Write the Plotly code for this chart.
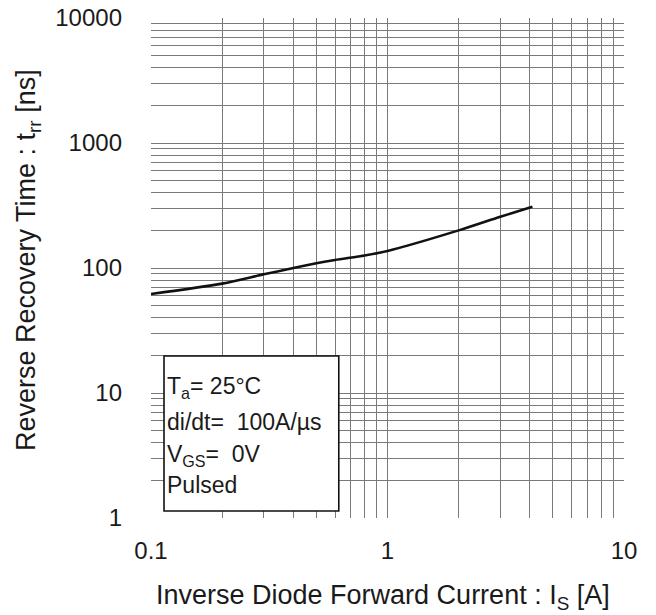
import plotly.graph_objects as go

# Data
current_a = [0.1, 0.2, 0.3, 0.4, 0.5, 0.6, 0.8, 1.0, 2.0, 3.0, 4.1]
trr_ns = [62, 75, 89, 100, 109, 116, 126, 137, 200, 257, 309]

x_tickvals = [0.1, 1, 10]
x_ticktext = ["0.1", "1", "10"]
y_tickvals = [1, 10, 100, 1000, 10000]
y_ticktext = ["1", "10", "100", "1000", "10000"]

x_minor = [m * 10 ** e for e in (-1, 0) for m in range(2, 10)]
y_minor = [m * 10 ** e for e in (0, 1, 2, 3) for m in range(2, 10)]

x_title = "Inverse Diode Forward Current : I<sub>S</sub> [A]"
y_title = "Reverse Recovery Time : t<sub>rr</sub> [ns]"
conditions = ["T<sub>a</sub>= 25°C", "di/dt=  100A/µs", "V<sub>GS</sub>=  0V", "Pulsed"]

FONT = "Liberation Sans, Arial, sans-serif"
GRID = "#7a7a7a"
TXT = "#1a1a1a"

fig = go.Figure()
fig.add_trace(go.Scatter(
    x=current_a, y=trr_ns, mode="lines",
    line=dict(color="#111111", width=2.6, shape="spline", smoothing=0.8),
    showlegend=False, hoverinfo="skip"))

fig.update_layout(
    width=656, height=615,
    margin=dict(l=143, r=40, t=10, b=105),
    paper_bgcolor="white", plot_bgcolor="white",
    font=dict(family=FONT, color=TXT, size=24),
    showlegend=False,
)

fig.update_xaxes(
    type="log", range=[-1, 1], automargin=False,
    tickvals=x_tickvals, ticktext=x_ticktext,
    tickfont=dict(size=24, color=TXT),
    ticklabelstandoff=16, ticklabeloverflow="allow",
    showgrid=True, gridcolor=GRID, gridwidth=1,
    minor=dict(tickvals=x_minor, showgrid=True, gridcolor=GRID, gridwidth=1),
    showline=False, zeroline=False, ticks="",
)
fig.update_yaxes(
    type="log", range=[0, 4], automargin=False,
    tickvals=y_tickvals, ticktext=y_ticktext,
    tickfont=dict(size=24, color=TXT),
    ticklabelstandoff=28, ticklabeloverflow="allow",
    showgrid=True, gridcolor=GRID, gridwidth=1,
    minor=dict(tickvals=y_minor, showgrid=True, gridcolor=GRID, gridwidth=1),
    showline=False, zeroline=False, ticks="",
)

# Axis titles
fig.add_annotation(text=x_title, xref="paper", yref="paper", x=0.49, y=-0.158,
                   xanchor="center", yanchor="middle", showarrow=False,
                   font=dict(size=27, color=TXT, family=FONT))
fig.add_annotation(text=y_title, xref="paper", yref="paper", x=-0.26, y=0.516,
                   xanchor="center", yanchor="middle", showarrow=False, textangle=-90,
                   font=dict(size=27, color=TXT, family=FONT))

# Conditions box
fig.add_shape(type="rect", xref="paper", yref="paper",
              x0=0.0275, x1=0.397, y0=0.014, y1=0.324,
              line=dict(color="#111111", width=1.6), fillcolor="white", layer="above")

line_y = [0.262, 0.192, 0.126, 0.066]
for txt, yy in zip(conditions, line_y):
    fig.add_annotation(text=txt, xref="paper", yref="paper", x=0.029, y=yy,
                       xanchor="left", yanchor="middle", showarrow=False,
                       font=dict(size=23, color=TXT, family=FONT))

fig.write_html("out.html")
